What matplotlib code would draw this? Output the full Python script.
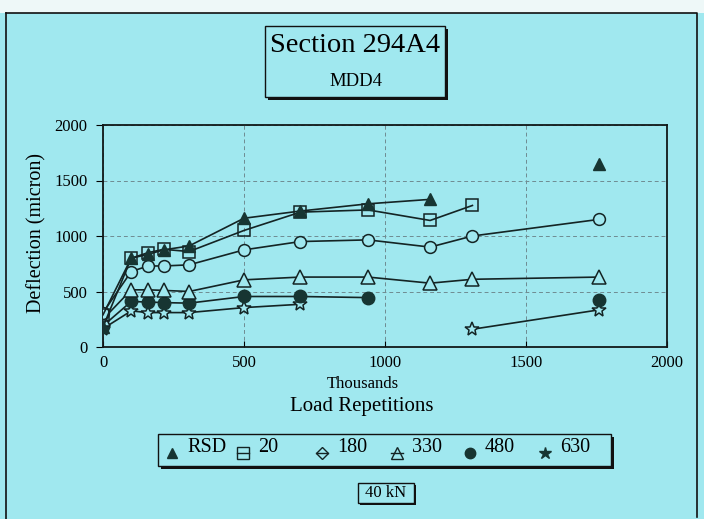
import numpy as np
import matplotlib
matplotlib.use("Agg")
import matplotlib.pyplot as plt
from matplotlib.patches import Rectangle
from matplotlib.lines import Line2D

plt.rcParams['font.family'] = ['Liberation Serif', 'DejaVu Serif']

nan = np.nan
# Load repetitions (thousands)
reps = [0, 100, 160, 215, 305, 500, 700, 940, 1160, 1310, 1760]
# Deflection (micron) per depth
rsd = [180, 800, 835, 875, 910, 1160, 1225, 1290, 1330, nan, 1645]
d20 = [290, 800, 850, 880, 860, 1050, 1215, 1235, 1140, 1275, nan]
d180 = [309, 680, 730, 730, 740, 875, 950, 965, 900, 1000, 1150]
d330 = [250, 515, 515, 510, 500, 605, 630, 630, 575, 610, 630]
d480 = [190, 410, 405, 400, 395, 455, 455, 445, nan, nan, 425]
d630 = [165, 325, 310, 310, 310, 355, 385, nan, nan, 160, 335]
labels = ["RSD", "20", "180", "330", "480", "630"]
xticks = [0, 500, 1000, 1500, 2000]
yticks = [0, 500, 1000, 1500, 2000]

BG = '#a0e8ef'
DARK = '#173532'
LINE = '#142424'
W, H = 704, 519

fig = plt.figure(figsize=(W / 100, H / 100), dpi=100, facecolor=BG)

def fx(x):
    return x / W

def fy(y):
    return 1 - y / H

ax = fig.add_axes([fx(103), fy(347), (667 - 103) / W, (347 - 125) / H])
ax.set_facecolor(BG)

styles = [
    dict(marker='^', ms=9, mfc=DARK, mec=DARK),
    dict(marker='s', ms=9, mfc='none', mec=LINE, mew=1.1),
    dict(marker='o', ms=8.5, mfc=BG, mec=LINE, mew=1.1),
    dict(marker='^', ms=10, mfc=BG, mec=LINE, mew=1.1),
    dict(marker='o', ms=9, mfc=DARK, mec=DARK),
    dict(marker='*', ms=10.5, mfc=BG, mec=LINE, mew=1.1),
]
series = [rsd, d20, d180, d330, d480, d630]
zorders = [3.6, 3.5, 3.3, 3.2, 3.1, 3.0]
for i in range(6):
    ax.plot(reps, series[i], color=LINE, lw=1.2, zorder=zorders[i], **styles[i])

ax.set_xlim(0, 2000)
ax.set_ylim(0, 2000)
ax.set_xticks(xticks)
ax.set_yticks(yticks)
ax.set_xticklabels([str(v) for v in xticks], fontsize=12)
ax.set_yticklabels([str(v) for v in yticks], fontsize=12)
ax.tick_params(axis='y', direction='out', length=5, pad=6)
ax.tick_params(axis='x', direction='in', length=4, pad=6)
ax.grid(True, color='#6f8c92', lw=0.7, ls=(0, (4, 3)))
ax.set_axisbelow(True)
for s in ax.spines.values():
    s.set_linewidth(1.3)
    s.set_color('#101818')

# axis labels
fig.text(fx(37), fy(233), "Deflection (micron)", rotation=90, fontsize=14.5,
         ha='center', va='center')
fig.text(fx(363), fy(384), "Thousands", fontsize=12, ha='center', va='center')
fig.text(fx(362), fy(406), "Load Repetitions", fontsize=15, ha='center', va='center')

# title box
def shadow_box(x0, y0, x1, y1, off=3):
    fig.add_artist(Rectangle((fx(x0 + off), fy(y1 + off)), (x1 - x0) / W, (y1 - y0) / H,
                             transform=fig.transFigure, facecolor='#111111',
                             edgecolor='none', zorder=1))
    fig.add_artist(Rectangle((fx(x0), fy(y1)), (x1 - x0) / W, (y1 - y0) / H,
                             transform=fig.transFigure, facecolor=BG,
                             edgecolor='#111111', lw=1.0, zorder=2))

shadow_box(265, 26, 445, 97)
fig.text(fx(355), fy(45), "Section 294A4", fontsize=20.5, ha='center', va='center', zorder=3)
fig.text(fx(356), fy(82), "MDD4", fontsize=13.5, ha='center', va='center', zorder=3)

# legend box
shadow_box(158, 434, 611, 466)
mx = [172, 243, 322, 397, 470, 545]
leg_styles = [
    dict(marker='^', ms=7.5, mfc=DARK, mec=DARK),
    dict(marker='s', ms=8, mfc='none', mec=LINE, mew=1.0),
    dict(marker='D', ms=6.5, mfc='none', mec=LINE, mew=1.0),
    dict(marker='^', ms=8, mfc='none', mec=LINE, mew=1.0),
    dict(marker='o', ms=7.5, mfc=DARK, mec=DARK),
    dict(marker='*', ms=9, mfc=DARK, mec=DARK),
]
with_line = [False, True, True, True, False, False]
for i in range(6):
    if with_line[i]:
        fig.add_artist(Line2D([fx(mx[i] - 6), fx(mx[i] + 6)], [fy(453), fy(453)],
                              transform=fig.transFigure, color=LINE, lw=1.0, zorder=4))
    fig.add_artist(Line2D([fx(mx[i])], [fy(453)], transform=fig.transFigure,
                          ls='none', zorder=4, **leg_styles[i]))
    fig.text(fx(mx[i] + 15), fy(448), labels[i], fontsize=14.5, ha='left',
             va='center', zorder=4)

# 40 kN box
shadow_box(358, 483, 414, 503, off=2)
fig.text(fx(386), fy(493), "40 kN", fontsize=12, ha='center', va='center', zorder=4)

# outer frame
fig.add_artist(Rectangle((0, fy(13)), 1, 13 / H, transform=fig.transFigure,
                         facecolor='#eef8f8', edgecolor='none', zorder=0))
fig.add_artist(Line2D([fx(6), fx(697), fx(697)], [fy(13), fy(13), fy(517)],
                      transform=fig.transFigure, color='#111111', lw=1.2))
fig.add_artist(Line2D([fx(6), fx(6)], [fy(13), fy(519)],
                      transform=fig.transFigure, color='#111111', lw=1.2))

fig.savefig("out.png", dpi=100, facecolor=BG)
